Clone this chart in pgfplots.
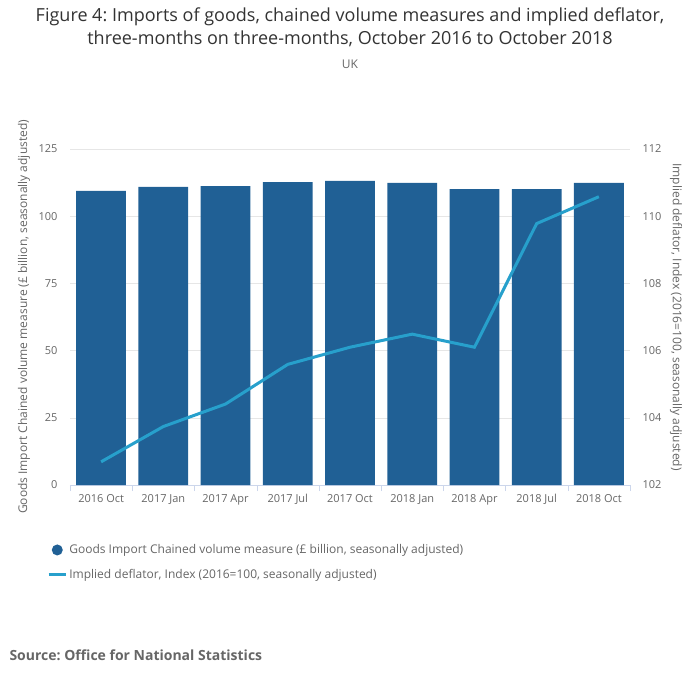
\documentclass[border=0pt]{standalone}
\usepackage{pgfplots}
\pgfplotsset{compat=1.18}
\usepackage{fontspec}
\setmainfont{Open Sans}
\frenchspacing
\definecolor{barblue}{HTML}{206095}
\definecolor{lineblue}{HTML}{27A0CC}
\definecolor{txtgray}{HTML}{666666}
\definecolor{titlegray}{HTML}{333333}
\definecolor{gridgray}{HTML}{E6E6E6}
\definecolor{axisblue}{HTML}{CCD6EB}
\begin{document}
\begin{tikzpicture}
\path[use as bounding box] (-70pt,-197pt) rectangle (630pt,485pt);
\node[font=\fontsize{18}{22}\selectfont, text=titlegray] at (280pt,468pt) {Figure 4: Imports of goods, chained volume measures and implied deflator,};
\node[font=\fontsize{18}{22}\selectfont, text=titlegray] at (280pt,446pt) {three-months on three-months, October 2016 to October 2018};
\node[font=\fontsize{12}{14}\selectfont, text=txtgray] at (280pt,421pt) {UK};
\node[anchor=west, font=\bfseries\fontsize{14}{16}\selectfont, text=txtgray] at (-64pt,-170pt) {Source: Office for National Statistics};

\begin{axis}[
  scale only axis,
  width=560pt, height=336pt,
  xmin=-0.5, xmax=8.5, ymin=0, ymax=125,
  ytick={0,25,...,125},
  xtick={0,...,8},
  xticklabels={2016 Oct,2017 Jan,2017 Apr,2017 Jul,2017 Oct,2018 Jan,2018 Apr,2018 Jul,2018 Oct},
  minor xtick={-0.5,0.5,...,8.5},
  axis x line*=bottom, axis y line*=left,
  x axis line style={axisblue,-},
  y axis line style={draw=none},
  major tick length=0pt, minor tick length=6pt,
  tick align=outside,
  minor tick style={axisblue},
  ymajorgrids, grid style={gridgray},
  /pgf/number format/assume math mode=true,
  ticklabel style={font=\fontsize{11}{13}\selectfont, text=txtgray},
  yticklabel style={xshift=-9pt},
  xticklabel style={yshift=-6pt},
  ylabel={Goods Import Chained volume measure (£ billion, seasonally adjusted)},
  ylabel style={at={(axis description cs:-0.082,0.5)}, anchor=center, font=\fontsize{12}{14}\selectfont, text=txtgray},
  legend style={draw=none, fill=none, at={(axis description cs:-0.041,-0.171)}, anchor=north west,
    font=\fontsize{12}{14}\selectfont, text=txtgray, row sep=10pt, inner sep=0pt},
  legend cell align=left,
]
\addplot[ybar, bar width=0.8, bar shift=0pt, fill=barblue, draw=none,
  legend image code/.code={\fill[barblue] (0.3cm,0cm) circle (5.5pt);}]
  coordinates {(0,109.4) (1,110.9) (2,111.2) (3,112.7) (4,113.1) (5,112.4) (6,110.1) (7,110.1) (8,112.4)};
\addlegendentry{Goods Import Chained volume measure (£ billion, seasonally adjusted)}
\addlegendimage{line legend, lineblue, line width=3pt}
\addlegendentry{Implied deflator, Index (2016=100, seasonally adjusted)}
\end{axis}

\begin{axis}[
  scale only axis,
  width=560pt, height=336pt,
  xmin=-0.5, xmax=8.5, ymin=102, ymax=112,
  ytick={102,104,...,112},
  axis x line=none, axis y line*=right,
  y axis line style={draw=none},
  major tick length=0pt,
  /pgf/number format/assume math mode=true,
  ticklabel style={font=\fontsize{11}{13}\selectfont, text=txtgray},
  yticklabel style={xshift=9pt},
  ylabel={Implied deflator, Index (2016=100, seasonally adjusted)},
  ylabel style={at={(axis description cs:1.082,0.5)}, anchor=center, rotate=180, font=\fontsize{12}{14}\selectfont, text=txtgray},
]
\addplot[lineblue, line width=3pt, no marks]
  coordinates {(0,102.69) (1,103.74) (2,104.41) (3,105.59) (4,106.1) (5,106.49) (6,106.1) (7,109.78) (8,110.58)};
\end{axis}
\end{tikzpicture}
\end{document}
